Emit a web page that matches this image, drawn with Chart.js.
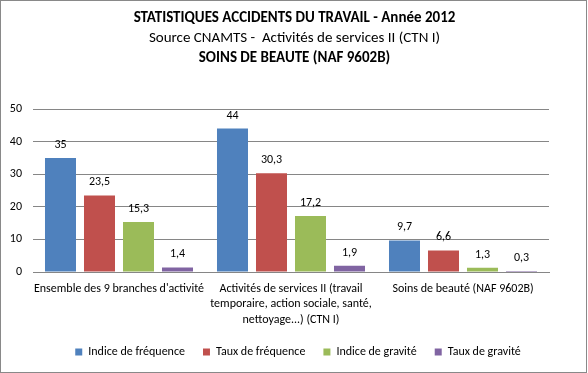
<!DOCTYPE html>
<html>
<head>
<meta charset="utf-8">
<script src="https://cdn.jsdelivr.net/npm/chart.js@4"></script>
<style>
  html, body { margin: 0; padding: 0; background: #fff; }
  #wrap {
    position: absolute; left: 0; top: 0;
    width: 587px; height: 373px;
    border: 1px solid #898989; box-sizing: border-box;
  }
</style>
</head>
<body>
<div id="wrap"><canvas id="chart-at"></canvas></div>
<script>
const categories = [
  ["Ensemble des 9 branches d'activité"],
  ["Activités de services II (travail", "temporaire, action sociale, santé,", "nettoyage...) (CTN I)"],
  ["Soins de beauté (NAF 9602B)"],
];
const seriesNames = ["Indice de fréquence", "Taux de fréquence", "Indice de gravité", "Taux de gravité"];
const indiceFrequence = [35, 44, 9.7];
const tauxFrequence = [23.5, 30.3, 6.6];
const indiceGravite = [15.3, 17.2, 1.3];
const tauxGravite = [1.4, 1.9, 0.3];
const titleLines = [
  "STATISTIQUES ACCIDENTS DU TRAVAIL - Année 2012",
  "Source CNAMTS -  Activités de services II (CTN I)",
  "SOINS DE BEAUTE (NAF 9602B)",
];

const colors = ["#4F81BD", "#C0504D", "#9BBB59", "#8064A2"];
const fontFamily = "Carlito, Lato, sans-serif";

// titre sur trois lignes (gras / normal / gras)
const titleBlock = {
  id: "titleBlock",
  beforeDraw(chart) {
    const { ctx, width } = chart;
    ctx.save();
    ctx.fillStyle = "#000";
    ctx.textAlign = "center";
    ctx.textBaseline = "middle";
    ctx.font = "bold 15px " + fontFamily;
    ctx.fillText(titleLines[0], width / 2 + 1, 17);
    ctx.font = "15px " + fontFamily;
    ctx.fillText(titleLines[1], width / 2 + 1, 37);
    ctx.font = "bold 15px " + fontFamily;
    ctx.fillText(titleLines[2], width / 2 + 1, 57);
    ctx.restore();
  },
};

// valeurs au-dessus des barres
const valueLabels = {
  id: "valueLabels",
  afterDatasetsDraw(chart) {
    const { ctx } = chart;
    ctx.save();
    ctx.fillStyle = "#000";
    ctx.textAlign = "center";
    ctx.textBaseline = "middle";
    ctx.font = "12px " + fontFamily;
    chart.data.datasets.forEach((ds, i) => {
      chart.getDatasetMeta(i).data.forEach((bar, j) => {
        const txt = String(ds.data[j]).replace(".", ",");
        ctx.fillText(txt, bar.x, bar.y - 13);
      });
    });
    ctx.restore();
  },
};

// la légende est centrée sur toute la largeur, pas seulement la zone du graphique
const shiftLegend = {
  id: "shiftLegend",
  afterLayout(chart) {
    const lg = chart.legend;
    if (lg) {
      lg.left += 23;
      lg.right += 23;
    }
  },
};

const data = {
  labels: categories,
  datasets: [indiceFrequence, tauxFrequence, indiceGravite, tauxGravite].map((values, i) => ({
    label: seriesNames[i],
    data: values,
    backgroundColor: colors[i],
    borderWidth: 0,
  })),
};

const options = {
  responsive: true,
  maintainAspectRatio: false,
  animation: false,
  categoryPercentage: 0.907,
  barPercentage: 0.795,
  layout: {
    padding: { top: 108, right: 37, left: 0, bottom: 4 },
  },
  scales: {
    x: {
      afterFit(scale) {
        scale.height = 56;
      },
      grid: { display: false, drawTicks: false },
      border: { display: true, color: "#868686" },
      ticks: {
        color: "#000",
        padding: 9,
        maxRotation: 0,
        autoSkip: false,
        font: { family: fontFamily, size: 12, lineHeight: 1.3 },
      },
    },
    y: {
      min: 0,
      max: 50,
      afterFit(scale) {
        scale.width = 32;
      },
      grid: { color: "#868686", drawTicks: false },
      border: { display: false },
      ticks: {
        stepSize: 10,
        color: "#000",
        padding: 11,
        font: { family: fontFamily, size: 12 },
      },
    },
  },
  plugins: {
    title: { display: false },
    tooltip: { enabled: false },
    legend: {
      display: true,
      position: "bottom",
      labels: {
        boxWidth: 7,
        boxHeight: 7,
        color: "#000",
        padding: 18,
        font: { family: fontFamily, size: 12 },
      },
    },
  },
};

const chartAt = new Chart(document.getElementById("chart-at"), {
  type: "bar",
  data: data,
  options: options,
  plugins: [titleBlock, valueLabels, shiftLegend],
});
</script>
</body>
</html>
